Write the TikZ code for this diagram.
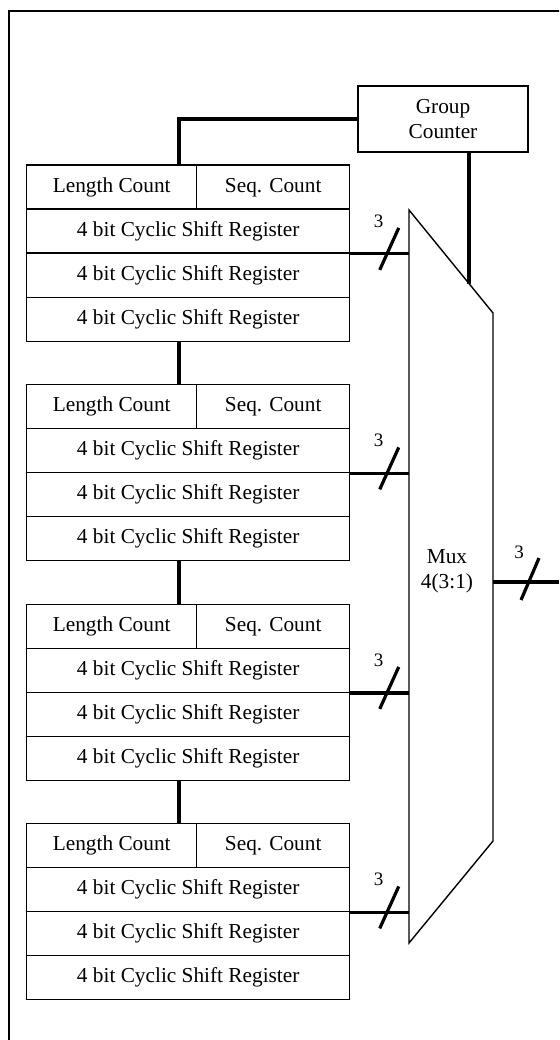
\documentclass[tikz,border=0pt]{standalone}
\usepackage{fontspec}
\setmainfont{Liberation Serif}
\usetikzlibrary{calc}
\tikzset{
  cell/.style={draw, line width=1.4pt, inner sep=0pt, minimum height=44pt, text height=14.5pt, text depth=4.5pt, anchor=north west, font=\fontsize{21.3}{25}\selectfont},
  wire/.style={line width=3.2pt},
  thinline/.style={line width=1.4pt},
  buslabel/.style={font=\fontsize{19}{21}\selectfont, inner sep=0pt}
}
\begin{document}
\begin{tikzpicture}[x=1pt, y=-1pt]
\useasboundingbox (0,0) rectangle (559,1040);
\clip (0,0) rectangle (559,1040);
% outer frame
\draw[line width=2pt] (9,1100) -- (9,11) -- (600,11);
% group counter
\node[draw, line width=1.4pt, minimum width=170pt, minimum height=66pt, align=center,
      font=\fontsize{21.3}{25}\selectfont, inner sep=0pt] (gc) at (443,119) {Group\\Counter};
% mux
\coordinate (m1) at (409,210);
\coordinate (m2) at (493,313);
\coordinate (m3) at (493,841);
\coordinate (m4) at (409,943);
\draw[thinline] (m1) -- (m2) -- (m3) -- (m4) -- cycle;
\node[align=center, font=\fontsize{21.3}{25}\selectfont, inner sep=0pt] (mux) at (447,571) {Mux\\4(3:1)};
\coordinate (cx) at (179,0);
% blocks
\foreach \k in {0,1,2,3}{
  \pgfmathsetmacro{\top}{164.5+219.5*\k}
  \node[cell, minimum width=170pt] (lc\k) at (26,\top) {Length Count};
  \node[cell, minimum width=153pt] (sc\k) at (196,\top) {Seq. Count};
  \node[cell, minimum width=323pt] (ra\k) at (26,\top+44) {4 bit Cyclic Shift Register};
  \node[cell, minimum width=323pt] (rb\k) at (26,\top+88) {4 bit Cyclic Shift Register};
  \node[cell, minimum width=323pt] (rc\k) at (26,\top+132) {4 bit Cyclic Shift Register};
  % bus to mux
  \draw[wire] (ra\k.south east) -- (ra\k.south east -| m1);
  \coordinate (x\k) at ($(ra\k.south east)!0.62!(ra\k.south east -| m1)$);
  \draw[wire] ($(x\k)+(-7,16)$) -- ($(x\k)+(12,-26)$);
  \node[buslabel] (l\k) at ($(x\k)+(-8,-33)$) {3};
}
% links between blocks
\foreach \a/\b in {0/1,1/2,2/3}{
  \draw[wire] (rc\a.south west -| cx) -- (lc\b.north west -| cx);
}
% group counter links
\draw[wire] (gc.west) -| (lc0.north west -| cx);
\coordinate (gcin) at ($(m1)!0.714!(m2)$);
\draw[wire] (gc.south -| gcin) -- (gcin);
% output
\coordinate (out) at (559,582);
\draw[wire] (out -| m2) -- (out);
\coordinate (xo) at (529,582);
\draw[wire] ($(xo)+(-8,18)$) -- ($(xo)+(10,-24)$);
\node[buslabel] (lo) at ($(xo)+(-10,-30)$) {3};
\end{tikzpicture}
\end{document}
